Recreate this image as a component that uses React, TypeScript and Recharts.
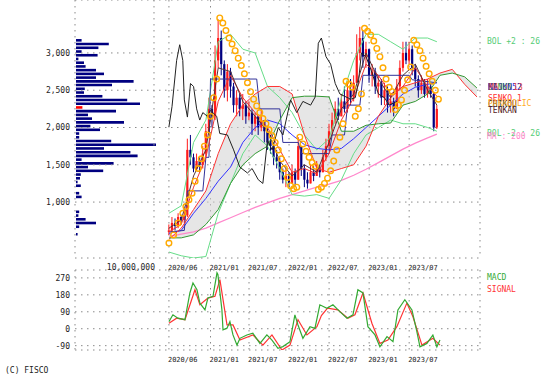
import React from 'react';
import { ComposedChart, BarChart, Bar, Line, Area, XAxis, YAxis, CartesianGrid, Cell } from 'recharts';

const FONT = '"DejaVu Sans Mono", monospace';
const GRID = '#8a8a8a';

// weekly index: w = weeks since 2020/06 (candles every 2 weeks)
const CANDLE_W = [
  0, 2, 4, 6, 8, 10, 12, 14, 16, 18,
  20, 22, 24, 26, 28, 30, 32, 34, 36, 38,
  40, 42, 44, 46, 48, 50, 52, 54, 56, 58,
  60, 62, 64, 66, 68, 70, 72, 74, 76, 78,
  80, 82, 84, 86, 88, 90, 92, 94, 96, 98,
  100, 102, 104, 106, 108, 110, 112, 114, 116, 118,
  120, 122, 124, 126, 128, 130, 132, 134, 136, 138,
  140, 142, 144, 146, 148, 150, 152, 154, 156, 158,
  160, 162, 164, 166, 168, 170, 172, 174,
];
const CLOSE = [
  620, 720, 680, 800, 760, 820, 1700, 1600, 1450, 1550,
  1500, 1650, 1950, 2250, 2150, 2900, 3200, 2850, 2500, 2750,
  2550, 2300, 2400, 2250, 2300, 2150, 2200, 2050, 2150, 2000,
  2100, 1950, 1800, 1750, 1600, 1550, 1400, 1300, 1350, 1250,
  1400, 1300, 1750, 1450, 1300, 1250, 1400, 1350, 1450, 1400,
  1600, 1750, 1950, 2100, 2250, 2150, 2350, 2250, 2500, 2400,
  2600, 3000, 3200, 2950, 3050, 2700, 2750, 2550, 2600, 2400,
  2500, 2300, 2350, 2250, 2550, 2800, 3000, 2900, 3050, 2800,
  2650, 2500, 2600, 2450, 2550, 2450, 2000, 2250,
];
const HIGH = [
  700, 800, 780, 850, 830, 900, 1850, 1900, 1650, 1650,
  1600, 1750, 2050, 2400, 2300, 3100, 3450, 3300, 2900, 2850,
  2800, 2600, 2500, 2450, 2450, 2350, 2350, 2250, 2200, 2150,
  2250, 2100, 2000, 1900, 1800, 1700, 1600, 1450, 1450, 1400,
  1500, 1450, 1870, 1750, 1500, 1400, 1500, 1480, 1550, 1500,
  1700, 1850, 2050, 2200, 2350, 2400, 2450, 2550, 2600, 2650,
  2700, 3250, 3350, 3300, 3150, 3050, 2850, 2800, 2700, 2650,
  2600, 2550, 2450, 2400, 2650, 2900, 3150, 3150, 3150, 3100,
  2850, 2700, 2700, 2650, 2650, 2600, 2480, 2300,
];
const LOW = [
  560, 600, 620, 650, 700, 720, 800, 1500, 1400, 1420,
  1400, 1450, 1600, 1900, 2000, 2100, 2800, 2700, 2400, 2350,
  2400, 2200, 2150, 2150, 2100, 2050, 2100, 1900, 1950, 1900,
  1950, 1800, 1700, 1650, 1500, 1450, 1300, 1250, 1200, 1200,
  1250, 1220, 1300, 1350, 1200, 1180, 1250, 1280, 1350, 1330,
  1400, 1550, 1700, 1900, 2050, 2100, 2150, 2200, 2200, 2300,
  2350, 2600, 2900, 2800, 2800, 2600, 2550, 2450, 2400, 2300,
  2300, 2200, 2200, 2150, 2250, 2500, 2750, 2850, 2850, 2700,
  2550, 2400, 2450, 2400, 2400, 2400, 1950, 1980,
];

// indicator lines, read every 8 weeks
const IND_W = [0, 8, 16, 24, 32, 40, 48, 56, 64, 72, 80, 88, 96, 104, 112, 120, 128, 136, 144, 152, 160, 168, 174];
const MA13 = [600, 700, 1200, 1600, 2350, 2700, 2400, 2200, 2000, 1700, 1400, 1450, 1380, 1650, 2100, 2400, 2850, 2700, 2450, 2550, 2800, 2550, 2420];
const MA52 = [580, 620, 850, 1050, 1280, 1470, 1800, 2000, 2100, 2050, 1900, 1770, 1720, 1700, 1720, 1850, 2000, 2150, 2300, 2450, 2540, 2580, 2600];
const MA200 = [540, 570, 600, 650, 720, 790, 860, 930, 990, 1050, 1100, 1150, 1200, 1240, 1290, 1360, 1440, 1530, 1620, 1710, 1790, 1860, 1910];
const BOL_UP = [850, 950, 1800, 2100, 3150, 3250, 3050, 3000, 2550, 2400, 2200, 1900, 1700, 1850, 2400, 2900, 3250, 3250, 3150, 3050, 3200, 3200, 3150];
const BOL_LO = [330, 280, 250, 270, 850, 1250, 1650, 1900, 1750, 1450, 1100, 1080, 1100, 1050, 1300, 1650, 1900, 2000, 2100, 2050, 2050, 2000, 1950];
const TENKAN = [650, 760, 1350, 1700, 2800, 2750, 2350, 2150, 1950, 1550, 1350, 1500, 1400, 1800, 2250, 2450, 3000, 2650, 2400, 2700, 2850, 2500, 2300];

const KIJUN_W = [0, 10, 12, 22, 24, 26, 27, 57, 59, 72, 74, 84, 86, 104, 106, 114, 116, 124, 126, 156, 158, 174];
const KIJUN = [600, 620, 1150, 1150, 1600, 1600, 2650, 2650, 2250, 2250, 1800, 1800, 1650, 1650, 1900, 1900, 2300, 2300, 2700, 2700, 2640, 2600];

// ichimoku cloud, runs 26 weeks past the last candle
const CLOUD_W = [0, 8, 16, 24, 32, 40, 48, 56, 64, 72, 80, 88, 96, 104, 112, 120, 128, 136, 144, 152, 160, 168, 176, 184, 192, 200];
const SENKO1 = [500, 650, 900, 1150, 1650, 2050, 2300, 2450, 2550, 2550, 2450, 1900, 1450, 1400, 1450, 1500, 1750, 2150, 2400, 2550, 2600, 2650, 2730, 2780, 2580, 2410];
const SENKO2 = [520, 520, 560, 700, 900, 1250, 1500, 1650, 1750, 2100, 2400, 2420, 2420, 2410, 1950, 1950, 2030, 2050, 2060, 2300, 2350, 2450, 2700, 2730, 2680, 2530];

const CHIKOU_W = [0, 2, 5, 7, 9, 10, 12, 14, 16, 18, 20, 22, 25, 27, 31, 33, 38, 42, 46, 51, 54, 58, 61, 64, 67, 71, 74, 79, 83, 87, 92, 95, 97, 99, 102, 105, 108, 111, 118, 121, 123, 125, 128, 132, 136, 140, 143, 148];
const CHIKOU = [2010, 2280, 2900, 3110, 2900, 2370, 2140, 2590, 2550, 2250, 2100, 2200, 2150, 2230, 2150, 1920, 1900, 1700, 1470, 1390, 1450, 1300, 1250, 1830, 1700, 2000, 1900, 2370, 2200, 2350, 2300, 2410, 3130, 3200, 2950, 2850, 2590, 2450, 2380, 2400, 2600, 3000, 2950, 2730, 2450, 2400, 2300, 2350];

const PSAR_W = [
  0, 3, 6, 9, 11, 13, 15, 17, 19, 21, 23, 25, 27, 29, 31,
  33, 35, 37, 39, 41, 43, 45, 47, 49, 51, 53, 55, 57, 59, 61, 63, 65, 67, 69, 71, 73, 75, 77, 79,
  81, 83,
  85, 87, 89, 91, 93, 95,
  97, 99, 101, 103, 105, 107, 109, 111, 113,
  115, 117, 119,
  121, 123, 125,
  127, 129, 131, 133, 135, 137, 139, 141, 143, 145,
  147, 149, 151, 153, 155, 157,
  159, 161, 163, 165, 167, 169, 171, 173, 175,
];
const PSAR = [
  450, 560, 720, 850, 940, 1030, 1120, 1280, 1450, 1580, 1750, 1900, 2150, 2400, 2650,
  3470, 3400, 3300, 3200, 3120, 3030, 2930, 2830, 2720, 2600, 2480, 2380, 2290, 2200, 2120, 2050, 1970, 1890, 1800, 1700, 1580, 1450, 1330, 1220,
  1180, 1200,
  1870, 1780, 1680, 1600, 1530, 1480,
  1170, 1200, 1250, 1320, 1420, 1550, 1700, 1870, 2050,
  2620, 2580, 2540,
  2150, 2250, 2450,
  3330, 3290, 3240, 3160, 3060, 2950, 2800, 2650, 2540, 2480,
  2240, 2300, 2370, 2500, 2640, 2810,
  3170, 3110, 3030, 2930, 2820, 2720, 2620, 2500, 2380,
];

// volume by price (million shares), 50-yen bins, top to bottom
const VOL_P = [
  3175, 3125, 3075, 3025, 2975, 2925, 2875, 2825, 2775, 2725,
  2675, 2625, 2575, 2525, 2475, 2425, 2375, 2325, 2275, 2225,
  2175, 2125, 2075, 2025, 1975, 1925, 1875, 1825, 1775, 1725,
  1675, 1625, 1575, 1525, 1475, 1425, 1375, 1325, 1275, 1225,
  1175, 1125, 1075, 1025, 975, 925, 875, 825, 775, 725,
  675, 625, 575,
];
const VOL_V = [
  0.7, 4.1, 2.8, 0.7, 2.7, 0.3, 1.0, 1.2, 2.5, 3.5,
  2.5, 7.2, 4.5, 1.1, 1.0, 3.3, 6.4, 8.0, 0.8, 5.0,
  1.5, 2.0, 6.0, 1.8, 3.0, 0.4, 0.4, 4.4, 10.0, 3.5,
  6.8, 7.7, 0.7, 4.7, 1.5, 3.4, 0.6, 0.5, 0.2, 0.6,
  0, 0.4, 0.7, 0, 0, 0, 0.4, 0.3, 1.2, 2.5,
  0.4, 0, 0.2,
];
const CURRENT_BIN = 2275;

// MACD panel
const MACD_W = [0, 2.6, 5.8, 10.4, 13.6, 15.6, 18.2, 20.1, 23.4, 25.3, 28.6, 31.2, 31.8, 34.4, 35.1, 37.7, 39.6, 41.6, 44.2, 46.1, 50.6, 54.5, 59.1, 63.6, 66.9, 70.8, 74, 78.6, 81.8, 83.8, 87, 91.6, 94.8, 98, 102.6, 106.5, 111, 115.6, 119.5, 122.7, 126, 129.2, 133.8, 137, 141.6, 145.5, 148.7, 153.2, 157.8, 161, 163, 167.5, 171.4, 174, 176];
const MACD = [38, 74, 56, 48, 190, 243, 207, 136, 100, 163, 172, 297, 288, 100, -6, 3, 38, -33, -87, -51, -33, -24, -78, -33, -60, -104, -95, -69, 74, 20, -51, 11, 2, 127, 109, 127, 91, 56, 74, 207, 190, 11, -33, -96, -42, -69, 100, 154, 100, -15, -96, -78, -33, -96, -60];
const SIG_W = [0, 5, 10.4, 16.9, 20.1, 25.3, 29.9, 33.1, 37.7, 41.6, 46.1, 54.5, 61, 66.9, 73.4, 78.6, 83.8, 89.6, 96.1, 99, 103, 109.7, 116.2, 120.8, 126, 131.8, 137, 142.2, 148, 154.5, 158.4, 164.3, 171.4, 176];
const SIGNAL = [29, 56, 48, 207, 127, 163, 172, 261, 20, 20, -60, -33, -87, -33, -113, -87, 48, -33, 11, 70, 109, 100, 56, 74, 190, 29, -78, -60, 11, 136, 65, -87, -51, -87];

const DATE_TICKS = [0, 27, 52, 78, 104, 130, 156];
const DATE_LABELS = ['2020/06', '2021/01', '2021/07', '2022/01', '2022/07', '2023/01', '2023/07'];
const VOL_TICK = -9.7;
const PRICE_TICKS = [1000, 1500, 2000, 2500, 3000];
const MACD_TICKS = [-90, 0, 90, 180, 270];

const candles = CANDLE_W.map((w, i) => ({ w, o: i === 0 ? 600 : CLOSE[i - 1], c: CLOSE[i], h: HIGH[i], l: LOW[i] }));
const pts = (ws: number[], vs: number[]) => ws.map((w, i) => ({ w, v: vs[i] }));
const cloud = CLOUD_W.map((w, i) => ({ w, a: SENKO1[i], b: SENKO2[i] }));
const volRows = VOL_P.map((p, i) => ({ p, v: VOL_V[i] }));

function Candle(props: any) {
  const { x, y, width, height, payload } = props;
  if (!payload || x == null) return null;
  const { o, c, h, l } = payload;
  const top = Math.min(y, y + height);
  const span = Math.abs(height) || 1;
  const py = (p: number) => top + ((h - p) / (h - l)) * span;
  const color = c >= o ? '#ff1a1a' : '#000080';
  const cx = x + width / 2;
  const bTop = py(Math.max(o, c));
  const bH = Math.max(1, py(Math.min(o, c)) - bTop);
  return (
    <g>
      <line x1={cx} x2={cx} y1={top} y2={top + span} stroke={color} strokeWidth={1} />
      <rect x={cx - 1.1} y={bTop} width={2.2} height={bH} fill={color} />
    </g>
  );
}

function DateTick(props: any) {
  const { x, y, payload } = props;
  const v = payload.value;
  if (v === VOL_TICK) {
    return <text x={x + 1} y={y + 10} textAnchor="end" fontSize={8} fontFamily={FONT} fill="#222">10,000,000</text>;
  }
  const i = DATE_TICKS.indexOf(v);
  return <text x={x - 1} y={y + 10} textAnchor="start" fontSize={7} fontFamily={FONT} fill="#222">{DATE_LABELS[i]}</text>;
}

const yTick = { fontSize: 8, fontFamily: FONT, fill: '#222' };

function Labels() {
  const t = (x: number, y: number, fill: string, s: string) => (
    <text x={x} y={y} fill={fill} fontSize={8} fontFamily={FONT}>{s}</text>
  );
  return (
    <svg width={557} height={380} style={{ position: 'absolute', left: 0, top: 0, pointerEvents: 'none' }}>
      {t(487, 44, '#55cc77', 'BOL +2 : 26')}
      {t(488, 90, '#339933', 'SENKO 2')}
      {t(488, 90, '#3333ff', 'MA : 52')}
      {t(488, 90, '#333399', 'KIJUN')}
      {t(489, 90, '#ee4444', 'MA : 13')}
      {t(488, 101, '#ff3333', 'SENKO 1')}
      {t(488, 107, '#333333', 'CHIKOU')}
      {t(488, 106, '#ffaa22', 'PARABOLIC')}
      {t(488, 113, '#552222', 'TENKAN')}
      {t(487, 136, '#55cc77', 'BOL -2 : 26')}
      {t(487, 139, '#ff88cc', 'MA : 200')}
      {t(487, 280, '#33aa33', 'MACD')}
      {t(487, 292, '#ff3333', 'SIGNAL')}
      {t(5, 373, '#222', '(C) FISCO')}
    </svg>
  );
}

export default function App() {
  return (
    <div style={{ position: 'absolute', left: 0, top: 0, width: 557, height: 380, background: '#fff' }}>
      <div style={{ position: 'absolute', left: 76, top: 0 }}>
        <BarChart layout="vertical" width={80} height={258} data={volRows} margin={{ top: 0, right: 0, bottom: 0, left: 0 }}>
          <XAxis type="number" domain={[0, 10]} hide allowDataOverflow />
          <YAxis type="number" dataKey="p" domain={[250, 3710]} reversed hide allowDataOverflow />
          <Bar dataKey="v" barSize={2.6} isAnimationActive={false}>
            {volRows.map((r) => (
              <Cell key={r.p} fill={r.p === CURRENT_BIN ? '#ff0000' : '#000080'} />
            ))}
          </Bar>
        </BarChart>
      </div>

      <div style={{ position: 'absolute', left: 0, top: 0 }}>
        <ComposedChart width={557} height={272} data={candles} margin={{ top: 0, right: 77, bottom: 0, left: 0 }}>
          <CartesianGrid stroke={GRID} strokeDasharray="1.5 4.5" />
          <XAxis dataKey="w" type="number" domain={[-61, 202]} ticks={[VOL_TICK, ...DATE_TICKS]} interval={0}
            allowDataOverflow height={14} tickLine={false} axisLine={false} tickSize={0} tick={<DateTick />} />
          <YAxis type="number" domain={[250, 3710]} ticks={PRICE_TICKS} interval={0} allowDataOverflow width={75}
            tickLine={false} axisLine={false} tickSize={0} tickMargin={5} tick={yTick}
            tickFormatter={(v: number) => v.toLocaleString('en-US')} />
          <Line data={pts(IND_W, MA200)} dataKey="v" stroke="#ff88cc" strokeWidth={1.3} dot={false} isAnimationActive={false} />
          <Line data={pts(IND_W, BOL_UP)} dataKey="v" stroke="#66dd88" strokeWidth={1} dot={false} isAnimationActive={false} />
          <Line data={pts(IND_W, BOL_LO)} dataKey="v" stroke="#66dd88" strokeWidth={1} dot={false} isAnimationActive={false} />
          <Line data={pts(IND_W, MA52)} dataKey="v" stroke="#3333ff" strokeWidth={1} dot={false} isAnimationActive={false} />
          <Line data={pts(KIJUN_W, KIJUN)} dataKey="v" stroke="#333399" strokeWidth={1} dot={false} isAnimationActive={false} />
          <Area data={cloud} dataKey={(d: any) => [d.b, d.a]} stroke="none" fill="#d2d2d2" fillOpacity={0.55} isAnimationActive={false} />
          <Line data={pts(CLOUD_W, SENKO1)} dataKey="v" stroke="#ff3333" strokeWidth={1} dot={false} isAnimationActive={false} />
          <Line data={pts(CLOUD_W, SENKO2)} dataKey="v" stroke="#339933" strokeWidth={1} dot={false} isAnimationActive={false} />
          <Line data={pts(IND_W, MA13)} dataKey="v" stroke="#ee3333" strokeWidth={1} dot={false} isAnimationActive={false} />
          <Line data={pts(CHIKOU_W, CHIKOU)} dataKey="v" stroke="#222222" strokeWidth={1} dot={false} isAnimationActive={false} />
          <Bar dataKey={(d: any) => [d.l, d.h]} barSize={3} shape={<Candle />} isAnimationActive={false} />
          <Line data={pts(IND_W, TENKAN)} dataKey="v" stroke="#553333" strokeWidth={1} dot={false} isAnimationActive={false} />
          <Line data={pts(PSAR_W, PSAR)} dataKey="v" stroke="none" isAnimationActive={false}
            dot={{ r: 2.8, stroke: '#ffaa00', strokeWidth: 1.4, fill: 'none' }} />
        </ComposedChart>
      </div>

      <div style={{ position: 'absolute', left: 0, top: 262 }}>
        <ComposedChart width={557} height={105} margin={{ top: 8, right: 77, bottom: 5, left: 0 }}>
          <CartesianGrid stroke={GRID} strokeDasharray="1.5 4.5" />
          <XAxis dataKey="w" type="number" domain={[-61, 202]} ticks={DATE_TICKS} interval={0}
            allowDataOverflow height={12} tickLine={false} axisLine={false} tickSize={0} tick={<DateTick />} />
          <YAxis type="number" domain={[-113, 312]} ticks={MACD_TICKS} interval={0} allowDataOverflow width={75}
            tickLine={false} axisLine={false} tickSize={0} tickMargin={5} tick={yTick} />
          <Line data={pts(SIG_W, SIGNAL)} dataKey="v" stroke="#ff3333" strokeWidth={1.2} dot={false} isAnimationActive={false} />
          <Line data={pts(MACD_W, MACD)} dataKey="v" stroke="#33aa33" strokeWidth={1.2} dot={false} isAnimationActive={false} />
        </ComposedChart>
      </div>

      <Labels />
    </div>
  );
}
